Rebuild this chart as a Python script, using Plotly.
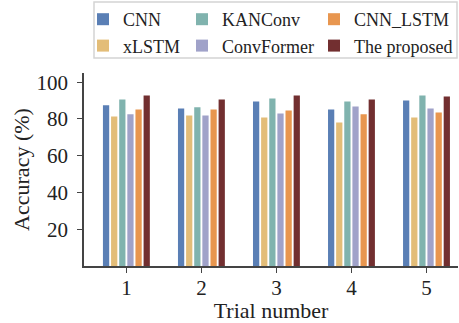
import plotly.graph_objects as go

trials = [1, 2, 3, 4, 5]
models = ["CNN", "xLSTM", "KANConv", "ConvFormer", "CNN_LSTM", "The proposed"]
cnn = [87.4, 85.7, 89.5, 85.2, 90.1]
xlstm = [81.4, 81.9, 80.8, 78.1, 80.8]
kanconv = [90.6, 86.3, 91.1, 89.5, 92.8]
convformer = [82.5, 81.9, 83.0, 86.8, 85.7]
cnn_lstm = [85.2, 85.2, 84.6, 82.5, 83.5]
proposed = [92.8, 90.6, 92.8, 90.6, 92.2]
series = [cnn, xlstm, kanconv, convformer, cnn_lstm, proposed]
y_ticks = [20, 40, 60, 80, 100]

colors = ["#5A7FB5", "#E3BD78", "#80B3AE", "#A0A2C9", "#E8964F", "#722F30"]
legend_ids = ["legend", "legend", "legend2", "legend2", "legend3", "legend3"]
ranks = [1, 2, 1, 2, 1, 2]

FONT = "Liberation Serif"
fig = go.Figure()
for name, vals, c, lg, rk in zip(models, series, colors, legend_ids, ranks):
    fig.add_trace(go.Bar(x=trials, y=vals, name=name, marker_color=c,
                         marker_line_width=0, legend=lg, legendrank=rk))

W, H = 459, 323
ml, mr, mt, mb = 84, 1, 73, 57
pw, ph = W - ml - mr, H - mt - mb

def px_x(p):
    return (p - ml) / pw

def px_y(p):
    return (H - mb - p) / ph

fig.add_shape(type="rect", xref="paper", yref="paper",
              x0=px_x(94), x1=px_x(457), y0=px_y(58), y1=px_y(2),
              line=dict(color="#D4D4D4", width=1.5), fillcolor="rgba(0,0,0,0)",
              layer="above")

leg_common = dict(orientation="v", bgcolor="rgba(0,0,0,0)", borderwidth=0,
                  font=dict(family=FONT, size=18, color="#222"),
                  xanchor="left", yanchor="top",
                  traceorder="normal", tracegroupgap=0, itemwidth=30)
ly = px_y(1)

fig.update_layout(
    width=W, height=H,
    margin=dict(l=ml, r=mr, t=mt, b=mb, autoexpand=False),
    plot_bgcolor="white", paper_bgcolor="white",
    barmode="group", bargap=0.35, bargroupgap=0.23,
    font=dict(family=FONT, size=21, color="#222"),
    legend=dict(**leg_common, x=px_x(83), y=ly),
    legend2=dict(**leg_common, x=px_x(182), y=ly),
    legend3=dict(**leg_common, x=px_x(314), y=ly),
    xaxis=dict(range=[0.435, 5.42], tickvals=trials, ticktext=[str(t) for t in trials],
               showline=True, linecolor="#444", linewidth=1.6,
               ticks="outside", ticklen=5, tickwidth=1.4, tickcolor="#444",
               showgrid=False, zeroline=False, ticklabelstandoff=-3,
               tickfont=dict(family=FONT, size=21, color="#222"),
               title=dict(text="Trial number", font=dict(family=FONT, size=22, color="#222"))),
    yaxis=dict(range=[0, 105], tickvals=y_ticks,
               showline=True, linecolor="#444", linewidth=1.6,
               ticks="outside", ticklen=5, tickwidth=1.4, tickcolor="#444",
               showgrid=False, zeroline=False, ticklabelstandoff=5,
               automargin=True,
               tickfont=dict(family=FONT, size=21, color="#222"),
               title=dict(text="Accuracy (%)", standoff=1,
                          font=dict(family=FONT, size=22, color="#222"))),
)

fig.write_html("out.html", config={"displayModeBar": False},
               post_script="document.body.style.margin='0';document.body.style.overflow='hidden';")
